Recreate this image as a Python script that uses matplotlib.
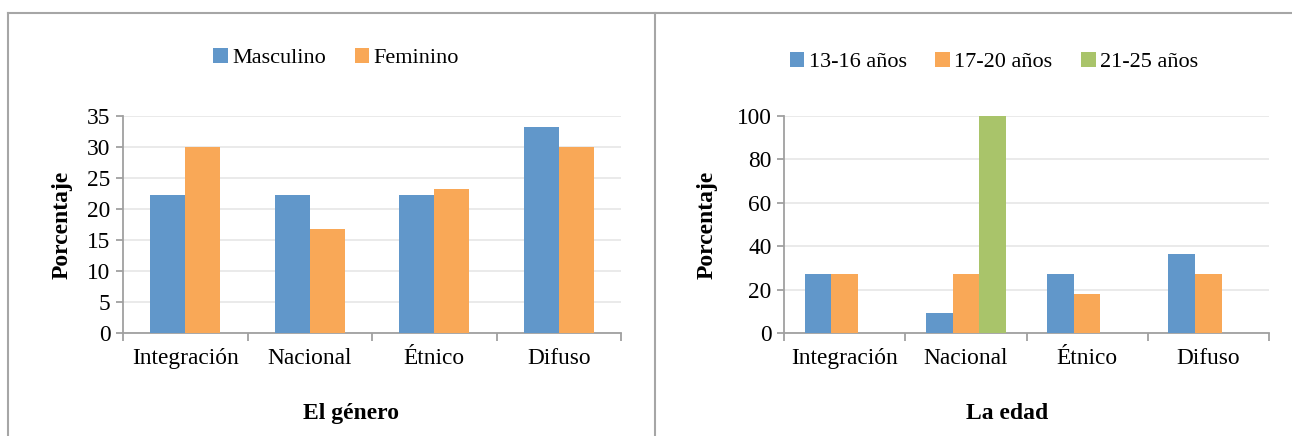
import matplotlib
matplotlib.use("Agg")
import matplotlib.pyplot as plt
from matplotlib.lines import Line2D
import numpy as np

plt.rcParams['font.family'] = ['Liberation Serif', 'DejaVu Serif']

categories = ["Integración", "Nacional", "Étnico", "Difuso"]

# Identity type by gender (%)
gender_labels = ["Masculino", "Feminino"]
masculino = [22.2, 22.2, 22.2, 33.3]
feminino = [30.0, 16.7, 23.3, 30.0]

# Identity type by age group (%)
age_labels = ["13-16 años", "17-20 años", "21-25 años"]
age_13_16 = [27.3, 9.1, 27.3, 36.4]
age_17_20 = [27.3, 27.3, 18.2, 27.3]
age_21_25 = [0.0, 100.0, 0.0, 0.0]

BLUE = "#6197CA"
ORANGE = "#F9A857"
GREEN = "#A9C46A"
GRID = "#E6E6E6"
AXIS = "#A0A0A0"
FS = 16.8
LEGFS = 16
LFS = 17

W, H = 1292, 436
fig = plt.figure(figsize=(W / 100, H / 100), dpi=100)


def px_axes(x0, x1, y_top, y_bot):
    return fig.add_axes([x0 / W, 1 - y_bot / H, (x1 - x0) / W, (y_bot - y_top) / H])


def style_axes(ax, ymax, ystep):
    n = len(categories)
    ax.set_xlim(-0.5, n - 0.5)
    ax.set_ylim(0, ymax)
    ax.set_yticks(np.arange(0, ymax + 0.1, ystep))
    ax.set_xticks(np.arange(n))
    ax.set_xticklabels(categories, fontsize=FS)
    ax.set_xticks(np.arange(-0.5, n, 1.0), minor=True)
    ax.tick_params(axis="x", which="major", length=0, pad=11)
    ax.tick_params(axis="x", which="minor", length=6, width=1.3, color=AXIS, direction="out")
    ax.tick_params(axis="y", length=5, width=1.3, color=AXIS, labelsize=FS, pad=4)
    for s in ("top", "right"):
        ax.spines[s].set_visible(False)
    for s in ("left", "bottom"):
        ax.spines[s].set_color(AXIS)
        ax.spines[s].set_linewidth(1.3)
    ax.yaxis.grid(True, color=GRID, linewidth=1.2)
    ax.set_axisbelow(True)
    ax.set_ylabel("Porcentaje", fontsize=LFS, fontweight="bold")


x = np.arange(len(categories))

# Left panel: gender
ax1 = px_axes(123, 621, 116, 333)
w1 = 0.28
b1 = ax1.bar(x - w1 / 2, masculino, w1, color=BLUE, label=gender_labels[0], zorder=3)
b2 = ax1.bar(x + w1 / 2, feminino, w1, color=ORANGE, label=gender_labels[1], zorder=3)
style_axes(ax1, 35, 5)
ax1.yaxis.set_label_coords(-0.102, 0.5)
fig.legend(handles=[b1, b2], labels=gender_labels, loc="center",
           bbox_to_anchor=(336 / W, 1 - 58 / H), ncol=2, frameon=False,
           fontsize=LEGFS, handlelength=0.65, handleheight=0.65,
           handletextpad=0.2, columnspacing=1.3)
fig.text(351 / W, 1 - 413 / H, "El género", ha="center", va="center",
         fontsize=LFS, fontweight="bold")

# Right panel: age
ax2 = px_axes(784, 1269, 116, 333)
w2 = 0.22
c1 = ax2.bar(x - w2, age_13_16, w2, color=BLUE, label=age_labels[0], zorder=3)
c2 = ax2.bar(x, age_17_20, w2, color=ORANGE, label=age_labels[1], zorder=3)
c3 = ax2.bar(x + w2, age_21_25, w2, color=GREEN, label=age_labels[2], zorder=3)
style_axes(ax2, 100, 20)
ax2.yaxis.set_label_coords(-0.136, 0.5)
fig.legend(handles=[c1, c2, c3], labels=age_labels, loc="center",
           bbox_to_anchor=(994 / W, 1 - 62 / H), ncol=3, frameon=False,
           fontsize=LEGFS, handlelength=0.65, handleheight=0.65,
           handletextpad=0.2, columnspacing=1.3)
fig.text(1007 / W, 1 - 413 / H, "La edad", ha="center", va="center",
         fontsize=LFS, fontweight="bold")

# Panel frames
FRAME = "#A6A6A6"
for xs, ys in [((8, 1292), (13, 13)), ((8, 8), (13, 436)), ((655, 655), (13, 436))]:
    fig.add_artist(Line2D([v / W for v in xs], [1 - v / H for v in ys],
                          transform=fig.transFigure, color=FRAME, linewidth=1.5))

fig.savefig("out.png", dpi=100)
